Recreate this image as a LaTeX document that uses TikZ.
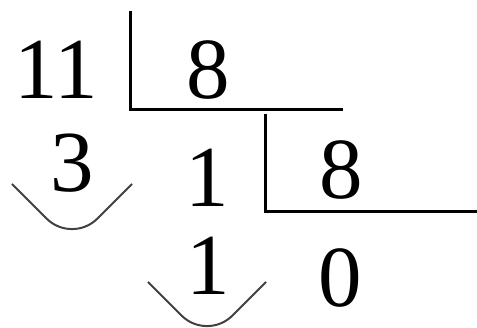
\documentclass[tikz,border=0pt]{standalone}
\usepackage{fontspec}
\setmainfont{Liberation Serif}
\begin{document}
\begin{tikzpicture}[x=1pt,y=1pt,
  digit/.style={inner sep=0pt, font=\fontsize{87}{87}\selectfont},
  bar/.style={line width=3pt, black},
  brace/.style={line width=2pt, draw=black!75, rounded corners=36pt}]
\useasboundingbox (0,0) rectangle (477,328);
\node[digit] (n11) at (56,258) {11};
\node[digit] (n8a) at (208,258) {8};
\node[digit] (n3) at (72,165) {3};
\node[digit] (n1a) at (207,150) {1};
\node[digit] (n8b) at (341,158) {8};
\node[digit] (n1b) at (208,62) {1};
\node[digit] (n0) at (340,50) {0};
\coordinate (b1top) at (130,317);
\coordinate (b1end) at (343,218);
\coordinate (b2top) at (265,214);
\coordinate (b2end) at (477,116);
\draw[bar] (b1top) |- (b1end);
\draw[bar] (b2top) |- (b2end);
\coordinate (c1l) at (12,144);
\coordinate (c1m) at (72,84);
\coordinate (c1r) at (132,144);
\coordinate (c2l) at (148,46);
\coordinate (c2m) at (207,-13);
\coordinate (c2r) at (266,46);
\draw[brace] (c1l) -- (c1m) -- (c1r);
\draw[brace] (c2l) -- (c2m) -- (c2r);
\end{tikzpicture}
\end{document}
